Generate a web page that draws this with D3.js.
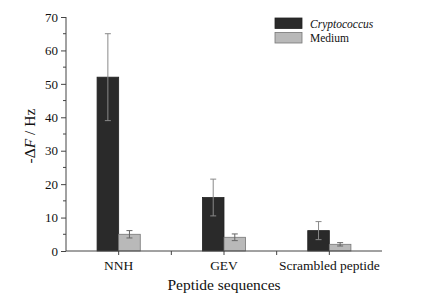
<!DOCTYPE html>
<html>
<head>
<meta charset="utf-8">
<style>
  body { margin: 0; background: #fff; }
  svg text { font-family: "Liberation Serif", "DejaVu Serif", serif; fill: #111; }
</style>
</head>
<body>
<svg id="chart" width="448" height="299"></svg>
<script src="https://cdn.jsdelivr.net/npm/d3@7"></script>
<script>
// data
var categories = ["NNH", "GEV", "Scrambled peptide"];
var series = ["Cryptococcus", "Medium"];
var cryptoValues = [52, 16, 6.1];
var cryptoErrors = [13, 5.5, 2.7];
var mediumValues = [5, 4.1, 2.0];
var mediumErrors = [1.1, 1.0, 0.5];
var yTicks = [0, 10, 20, 30, 40, 50, 60, 70];

var colors = {"Cryptococcus": "#2a2a2a", "Medium": "#b9b9b9"};
var strokes = {"Cryptococcus": "#222", "Medium": "#777"};
var errColors = {"Cryptococcus": "#8a8a8a", "Medium": "#666"};

var margin = {top: 17, right: 66, bottom: 48, left: 66};
var width = 448 - margin.left - margin.right,
    height = 299 - margin.top - margin.bottom;

var svg = d3.select("#chart");
var g = svg.append("g")
    .attr("transform", "translate(" + margin.left + "," + margin.top + ")");

var x = d3.scaleBand().domain(categories).range([0, width]).padding(0);
var y = d3.scaleLinear().domain([0, 70]).range([height, 0]);
var barW = x.bandwidth() * 0.205;

var rows = [];
categories.forEach(function(c, i){
  rows.push({cat: c, s: "Cryptococcus", v: cryptoValues[i], e: cryptoErrors[i], off: -barW});
  rows.push({cat: c, s: "Medium", v: mediumValues[i], e: mediumErrors[i], off: 0});
});

// bars
g.selectAll("rect.bar")
  .data(rows)
  .enter().append("rect")
    .attr("class", "bar")
    .attr("x", function(d){ return x(d.cat) + x.bandwidth() / 2 + d.off; })
    .attr("y", function(d){ return y(d.v); })
    .attr("width", barW)
    .attr("height", function(d){ return y(0) - y(d.v); })
    .style("fill", function(d){ return colors[d.s]; })
    .style("stroke", function(d){ return strokes[d.s]; })
    .style("stroke-width", 0.8);

// error bars
var eb = g.selectAll("g.err").data(rows).enter().append("g").attr("class", "err")
  .style("stroke", function(d){ return errColors[d.s]; })
  .style("stroke-width", 1);
eb.append("line")
  .attr("x1", function(d){ return x(d.cat) + x.bandwidth() / 2 + d.off + barW / 2; })
  .attr("x2", function(d){ return x(d.cat) + x.bandwidth() / 2 + d.off + barW / 2; })
  .attr("y1", function(d){ return y(d.v + d.e); })
  .attr("y2", function(d){ return y(d.v - d.e); });
[1, -1].forEach(function(sgn){
  eb.append("line")
    .attr("x1", function(d){ return x(d.cat) + x.bandwidth() / 2 + d.off + barW / 2 - 3; })
    .attr("x2", function(d){ return x(d.cat) + x.bandwidth() / 2 + d.off + barW / 2 + 3; })
    .attr("y1", function(d){ return y(d.v + sgn * d.e); })
    .attr("y2", function(d){ return y(d.v + sgn * d.e); });
});

// y axis
var yAxis = d3.axisLeft(y).tickValues(yTicks).tickSize(5).tickPadding(3);
var ya = g.append("g").attr("class", "y axis").call(yAxis);
ya.selectAll("text").style("font-size", "13px");
ya.select(".domain").attr("d", "M0," + height + "V0").style("stroke", "#444");
ya.selectAll(".tick line").style("stroke", "#444");
// minor ticks
ya.selectAll("line.minor")
  .data(d3.range(5, 70, 10))
  .enter().append("line")
    .attr("class", "minor")
    .attr("x1", -3).attr("x2", 0)
    .attr("y1", function(d){ return y(d); })
    .attr("y2", function(d){ return y(d); })
    .style("stroke", "#444");

// x axis
var xa = g.append("g").attr("transform", "translate(0," + height + ")");
xa.append("line").attr("x1", 0).attr("x2", width).style("stroke", "#444");
var edges = categories.map(function(c){ return x(c); }).slice(1);
var mids = categories.map(function(c){ return x(c) + x.bandwidth() / 2; });
xa.selectAll("line.tk")
  .data(edges.concat(mids))
  .enter().append("line")
    .attr("class", "tk")
    .attr("x1", function(d){ return d; }).attr("x2", function(d){ return d; })
    .attr("y1", 0).attr("y2", 4)
    .style("stroke", "#444");
xa.selectAll("text")
  .data(categories)
  .enter().append("text")
    .attr("x", function(d){ return x(d) + x.bandwidth() / 2; })
    .attr("y", 19)
    .attr("text-anchor", "middle")
    .style("font-size", "13.5px")
    .text(function(d){ return d; });

// axis titles
svg.append("text")
  .attr("x", margin.left + width / 2)
  .attr("y", 290)
  .attr("text-anchor", "middle")
  .style("font-size", "15.5px")
  .text("Peptide sequences");

var yt = svg.append("text")
  .attr("transform", "translate(35," + (margin.top + height / 2 + 2) + ") rotate(-90)")
  .attr("text-anchor", "middle")
  .style("font-size", "15.5px");
yt.append("tspan").text("-\u0394");
yt.append("tspan").style("font-style", "italic").text("F");
yt.append("tspan").text(" / Hz");

// legend
var lg = svg.append("g").attr("transform", "translate(275,18)");
var li = lg.selectAll("g").data(series).enter().append("g")
  .attr("transform", function(d, i){ return "translate(0," + (i * 14.5) + ")"; });
li.append("rect")
  .attr("width", 27).attr("height", 10.5)
  .style("fill", function(d){ return colors[d]; })
  .style("stroke", function(d){ return strokes[d]; })
  .style("stroke-width", 0.8);
li.append("text")
  .attr("x", 35).attr("y", 9.5)
  .style("font-size", "11.5px")
  .style("font-style", function(d, i){ return i == 0 ? "italic" : "normal"; })
  .text(function(d){ return d; });
</script>
</body>
</html>
